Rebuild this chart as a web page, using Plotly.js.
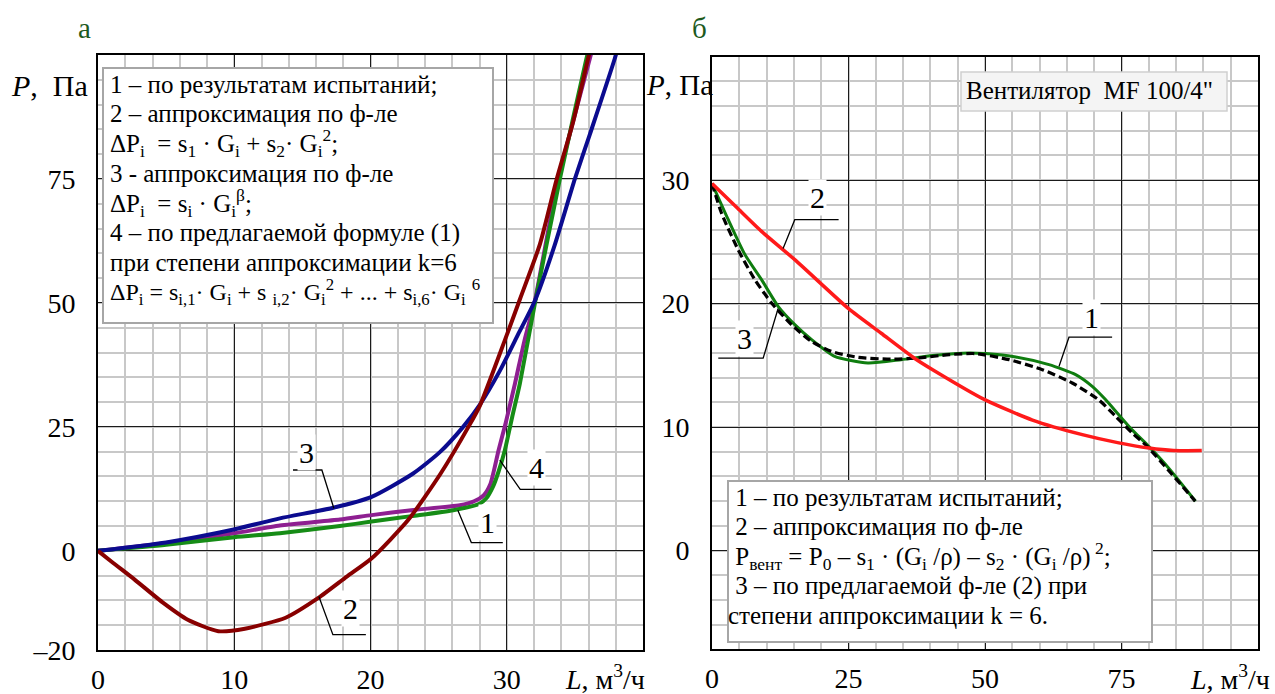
<!DOCTYPE html>
<html>
<head>
<meta charset="utf-8">
<script src="https://cdn.plot.ly/plotly-3.0.1.min.js"></script>
<style>
  html, body { margin: 0; padding: 0; background: #ffffff; }
  #chart { width: 1275px; height: 694px; }
  #chart text, #chart tspan { font-family: 'Liberation Serif', serif !important; }
</style>
</head>
<body>
<div id="chart"></div>
<script>
// ---- Panel "а": pressure loss P (Па) vs. flow L (м³/ч) ----
// 1 – test results
const testL_a = [0, 5, 10, 13.35, 17.75, 20.08, 23, 26.07, 28.0, 28.5, 29.0, 29.4, 29.86, 30.4, 30.96, 32.1, 33.9, 35.85, 36.2];
const testP_a = [0, 1.2, 2.75, 3.55, 5.0, 5.9, 7.0, 8.2, 9.5, 10.6, 13.0, 16.0, 20.3, 27.0, 33.7, 50.4, 75.0, 99.3, 103];
// 2 – quadratic approximation
const quadL_a = [0, 1, 2.69, 4.79, 6.59, 8.83, 10.78, 13.77, 16.17, 18.26, 20.09, 22.76, 25.15, 27.25, 28.03, 29.85, 30.96, 32.43, 33.65, 34.87, 35.97, 36.3];
const quadP_a = [0, -2.2, -5.8, -10.5, -13.9, -16.2, -15.7, -13.5, -9.5, -5.2, -1.5, 6.2, 15.6, 25.3, 29.3, 42.4, 50.7, 61.8, 74.8, 86.5, 99.3, 103];
// 3 – power-law approximation
const powL_a = [0, 5, 10.05, 13.35, 17.27, 20.08, 23.13, 25.09, 26.8, 28.03, 29.49, 30.84, 32.06, 33.5, 35.0, 36.1, 37.93, 38.3];
const powP_a = [0, 1.7, 4.35, 6.55, 8.7, 10.9, 15.6, 19.9, 25.0, 29.5, 36.3, 43.7, 50.4, 61.5, 75.0, 84.0, 99.3, 103];
// 4 – proposed polynomial, k = 6
const polyL_a = [0, 5, 10, 13.35, 17.75, 20.08, 23, 26.56, 27.6, 28.3, 28.8, 29.4, 29.94, 30.6, 31.3, 32.06, 33.77, 36.1, 36.45];
const polyP_a = [0, 1.6, 3.55, 5.1, 6.3, 7.2, 8.2, 9.2, 10.0, 11.2, 13.5, 20.3, 26.0, 33.7, 42.4, 50.4, 74.8, 99.3, 103];

// ---- Panel "б": fan curve P (Па) vs. L (м³/ч) ----
const testL_b = [0, 2.98, 6.03, 9.07, 12.11, 15.16, 18.2, 22.46, 28.55, 34.64, 40.41, 47.11, 50.04, 55.64, 61.72, 66.6, 69.64, 72.07, 74.5, 76.93, 79.67, 83.0, 88.55];
const testP_b = [29.73, 26.8, 23.97, 21.94, 19.78, 18.3, 17.1, 15.73, 15.2, 15.46, 15.79, 16.0, 15.95, 15.68, 15.06, 14.25, 13.3, 12.23, 11.0, 9.78, 8.58, 7.0, 3.99];
const quadL_b = [0, 4.5, 9.07, 15.16, 25.07, 30.99, 37.07, 40.41, 50.04, 58.69, 67.82, 74.5, 80.05, 84.5, 89.7];
const quadP_b = [29.73, 27.8, 25.85, 23.56, 19.57, 17.6, 15.58, 14.65, 12.2, 10.57, 9.39, 8.72, 8.3, 8.1, 8.1];
const polyL_b = [0, 1.77, 4.8, 7.85, 10.9, 14.55, 18.0, 21.86, 26.74, 32.8, 37.98, 43.46, 48.33, 54.42, 60.5, 65.98, 70.86, 73.9, 76.93, 79.67, 84.0, 88.5];
const polyP_b = [29.73, 27.3, 24.35, 21.94, 20.05, 18.3, 17.0, 16.13, 15.65, 15.5, 15.6, 15.87, 15.95, 15.46, 14.65, 13.57, 12.2, 10.88, 9.53, 8.45, 6.3, 4.0];

// ---- Tick labels ----
const xTicks_a = [0, 10, 20, 30, 40];
const xText_a  = ['0', '10', '20', '30', ''];
const yTicks_a = [-20, 0, 25, 50, 75, 100];
const yText_a  = ['\u201320', '0', '25', '50', '75', ''];
const xTicks_b = [0, 25, 50, 75, 100];
const xText_b  = ['0', '25', '50', '75', ''];
const yTicks_b = [-8, 0, 10, 20, 30, 40];
const yText_b  = ['', '0', '10', '20', '30', ''];

// ---- Legend texts ----
const legend_a = [
  '1 \u2013 по результатам испытаний;',
  '2 \u2013 аппроксимация по ф-ле',
  '\u0394P<sub>i</sub>  = s<sub>1</sub> \u00b7 G<sub>i</sub> + s<sub>2</sub>\u00b7 G<sub>i</sub><sup>2</sup>;',
  '3 - аппроксимация по ф-ле',
  '\u0394P<sub>i</sub>  = s<sub>i</sub> \u00b7 G<sub>i</sub><sup>\u03b2</sup>;',
  '4 \u2013 по предлагаемой формуле (1)',
  'при степени аппроксимации k=6',
  '\u0394P<sub>i</sub> = s<sub>i,1</sub>\u00b7 G<sub>i</sub> + s <sub>i,2</sub>\u00b7 G<sub>i</sub><sup>2</sup> + ... + s<sub>i,6</sub>\u00b7 G<sub>i</sub> <sup>6</sup>'
];
const legend_b = [
  '\u00a01 \u2013 по результатам испытаний;',
  '\u00a02 \u2013 аппроксимация по ф-ле',
  '\u00a0P<sub>вент</sub> = P<sub>0</sub> \u2013 s<sub>1</sub> \u00b7 (G<sub>i</sub> /\u03c1) \u2013 s<sub>2</sub> \u00b7 (G<sub>i</sub> /\u03c1)<sup> 2</sup>;',
  '\u00a03 \u2013 по предлагаемой ф-ле (2) при',
  'степени аппроксимации k = 6.'
];

const FONT = 'Liberation Serif';
const W = 1275, H = 694;
const px = v => v / W;          // pixel column -> paper x
const py = v => 1 - v / H;      // pixel row -> paper y

function curve(x, y, color, width, xa, ya, dash) {
  return {
    type: 'scatter', mode: 'lines', x: x, y: y, xaxis: xa, yaxis: ya,
    line: { color: color, width: width, shape: 'spline', smoothing: 0.6, dash: dash || 'solid' },
    hoverinfo: 'skip', showlegend: false
  };
}

const traces = [
  curve(polyL_a, polyP_a, '#8e1f91', 4, 'x', 'y'),
  curve(testL_a, testP_a, '#168c16', 4, 'x', 'y'),
  curve(powL_a, powP_a, '#0b0b8f', 4, 'x', 'y'),
  curve(quadL_a, quadP_a, '#880000', 4, 'x', 'y'),
  curve(testL_b, testP_b, '#0f7d0f', 3, 'x2', 'y2'),
  curve(polyL_b, polyP_b, '#000000', 3.2, 'x2', 'y2', '8px,4px'),
  curve(quadL_b, quadP_b, '#ff1a1a', 3.5, 'x2', 'y2')
];

function axis(domain, range, tickvals, ticktext, minorStep, anchor, isY) {
  return {
    domain: domain, range: range, anchor: anchor,
    tickmode: 'array', tickvals: tickvals, ticktext: ticktext,
    ticks: 'outside', ticklen: isY ? 15 : 3, tickcolor: 'rgba(0,0,0,0)',
    tickfont: { family: FONT, size: 28, color: '#000' },
    showgrid: true, gridcolor: '#1a1a1a', gridwidth: 1.2,
    minor: { tickmode: 'linear', tick0: 0, dtick: minorStep, showgrid: true, gridcolor: '#c8c8c8', gridwidth: 1.6, ticks: '' },
    showline: true, mirror: true, linecolor: '#000', linewidth: 2,
    zeroline: false, fixedrange: true
  };
}

const annotations = [];
const shapes = [];

function text(x, y, t, size, opts) {
  annotations.push(Object.assign({
    xref: 'paper', yref: 'paper', x: px(x), y: py(y), text: t, showarrow: false,
    font: { family: FONT, size: size, color: '#000' }, xanchor: 'left', yanchor: 'middle'
  }, opts || {}));
}

// panel letters
text(76, 28, 'а', 29, { font: { family: FONT, size: 29, color: '#1d5a1d' } });
text(690, 28, 'б', 29, { font: { family: FONT, size: 29, color: '#1d5a1d' } });
// axis titles
text(9, 85, '<i>P</i>,  Па', 30);
text(644, 85, '<i>P</i>, Па', 29);
text(563, 677, '<i>L</i>, м<sup>3</sup>/ч', 28);
text(1188, 677, '<i>L</i>, м<sup>3</sup>/ч', 28);

// legend boxes
shapes.push({ type: 'rect', xref: 'paper', yref: 'paper', x0: px(103), x1: px(493), y0: py(68), y1: py(323),
  fillcolor: '#ffffff', line: { color: '#a6a6a6', width: 2 }, layer: 'above' });
shapes.push({ type: 'rect', xref: 'paper', yref: 'paper', x0: px(728), x1: px(1152), y0: py(481), y1: py(642),
  fillcolor: '#ffffff', line: { color: '#a6a6a6', width: 2 }, layer: 'above' });
shapes.push({ type: 'rect', xref: 'paper', yref: 'paper', x0: px(961), x1: px(1227), y0: py(72), y1: py(111),
  fillcolor: '#f4f4f4', line: { color: '#cfcfcf', width: 1.5 }, layer: 'above' });

// legend lines, one annotation per line for even spacing
legend_a.forEach((t, i) => text(108, 84 + 29.7 * i, t, i === legend_a.length - 1 ? 24 : 25));
legend_b.forEach((t, i) => text(i < 4 ? 727 : 726, 497.5 + 29.4 * i, t, 25));
text(964, 91, 'Вентилятор  MF 100/4"', 25);

// curve number labels with leader lines (data coordinates)
function tag(xa, ya, label, tx, ty, pts) {
  annotations.push({ xref: xa, yref: ya, x: tx, y: ty, text: label, showarrow: false,
    font: { family: FONT, size: 30, color: '#000' }, bgcolor: '#ffffff', borderpad: 1,
    xanchor: 'center', yanchor: 'middle' });
  shapes.push({ type: 'path', xref: xa, yref: ya, layer: 'above',
    path: 'M' + pts.map(p => p[0] + ',' + p[1]).join(' L'),
    line: { color: '#000', width: 1.3 } });
}
tag('x', 'y', '3', 15.3, 19.8, [[17.31, 8.6], [16.43, 16.3], [14.31, 16.3]]);
tag('x', 'y', '2', 18.5, -11.7, [[16.21, -9.2], [17.24, -16.9], [19.66, -16.9]]);
tag('x', 'y', '1', 28.6, 5.7, [[26.41, 8.2], [27.4, 1.67], [29.71, 1.67]]);
tag('x', 'y', '4', 32.2, 16.8, [[29.49, 18.3], [30.99, 12.4], [33.29, 12.4]]);
tag('x2', 'y2', '2', 19.3, 28.6, [[13.02, 24.47], [15.16, 26.8], [23.19, 26.8]]);
tag('x2', 'y2', '3', 6.0, 17.2, [[12.11, 19.6], [9.37, 15.58], [1.15, 15.58]]);
tag('x2', 'y2', '1', 69.5, 18.9, [[63.55, 14.9], [65.38, 17.28], [73.28, 17.28]]);

const layout = {
  width: W, height: H,
  margin: { l: 0, r: 0, t: 0, b: 0 },
  paper_bgcolor: '#ffffff', plot_bgcolor: '#ffffff',
  font: { family: FONT },
  showlegend: false,
  xaxis:  axis([px(98), px(643)], [0, 40], xTicks_a, xText_a, 2, 'y', false),
  yaxis:  axis([py(650), py(55)], [-20, 100], yTicks_a, yText_a, 5, 'x', true),
  xaxis2: axis([px(712), px(1258)], [0, 100], xTicks_b, xText_b, 5, 'y2', false),
  yaxis2: axis([py(649.3), py(56.7)], [-8, 40], yTicks_b, yText_b, 2, 'x2', true),
  annotations: annotations,
  shapes: shapes
};

Plotly.newPlot('chart', traces, layout, { displayModeBar: false });
</script>
</body>
</html>
